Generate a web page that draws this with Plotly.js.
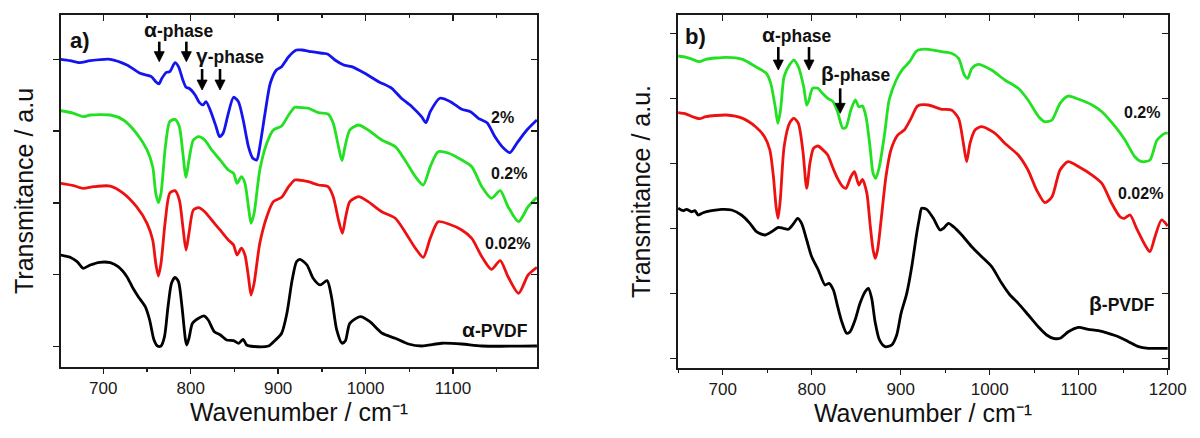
<!DOCTYPE html>
<html>
<head>
<meta charset="utf-8">
<script src="https://cdn.plot.ly/plotly-3.0.1.min.js"></script>
<style>
html,body{margin:0;padding:0;background:#fff;}
#chart{width:1200px;height:438px;}
</style>
</head>
<body>
<div id="chart"></div>
<script>
// ---------- Panel a) : alpha-phase / gamma-phase ----------
const a_pvdf_wn = [651,662,670,677,685,696,708,717,727,733,740,748,753,758,762,766,770,774,778,782,786,790,794,795.5,798,802,809,815,820,827,834,841,849,855,860,864,872,889,897,904,910,916,921,925,933,940,948,956,961,967,973,977,982,994,1005,1019,1034,1049,1064,1087,1110,1133,1196];
const a_pvdf_t  = [1.274,1.242,1.181,1.089,1.135,1.173,1.167,1.111,0.972,0.833,0.694,0.554,0.369,0.091,0.007,0.007,0.137,0.554,0.880,0.963,0.903,0.554,0.091,0.021,0.114,0.323,0.393,0.425,0.369,0.206,0.160,0.091,0.081,0.045,0.100,0.021,0,0.007,0.091,0.184,0.462,0.926,1.181,1.214,1.135,0.950,0.857,0.917,0.694,0.230,0.045,0.081,0.323,0.415,0.345,0.184,0.114,0.035,0.007,0.045,0.035,0.007,0.007];

const a_002_wn = [651,666,677,689,708,723,738,750,756.5,760,763,766,771,776,782,787,791,794.6,798,803,809,816,824,833.5,843,849,853,858,862,866,869,872.5,879,887,894.5,904,912,919,923,934.5,946,957,963,969,973.5,977.3,982,992,1003,1018.5,1034,1045,1057,1066,1074,1083,1095,1110,1121.5,1133,1144,1154,1163,1175,1186,1196];
const a_002_t  = [2.273,2.240,2.203,2.226,2.235,2.134,1.947,1.716,1.483,1.159,0.982,1.159,1.762,2.134,2.170,2.040,1.669,1.344,1.577,1.901,1.933,1.877,1.762,1.623,1.483,1.414,1.274,1.368,1.274,0.972,0.717,0.880,1.437,1.808,2.017,2.078,2.226,2.319,2.319,2.295,2.249,2.226,2.086,1.762,1.577,1.808,2.017,2.086,2.017,1.877,1.786,1.599,1.368,1.242,1.507,1.738,1.706,1.623,1.507,1.251,1.075,1.195,0.972,0.741,0.996,1.103];

const a_02_wn = [651,666,677,685,708,723,738,750,756.5,760,763,766,771,776,782,787,791,794.6,798,803,809,816,824,833.5,843,849,853,858,862,866,869,872.5,879,887,894.5,904,912,919,923,934.5,946,957,963,969,973,976.5,982,992,1003,1018.5,1034,1045,1057,1066,1074,1083,1095,1110,1121.5,1133,1144,1154,1163,1175,1186,1196];
const a_02_t  = [3.284,3.248,3.201,3.224,3.224,3.155,2.969,2.737,2.504,2.134,2.003,2.134,2.783,3.131,3.164,3.061,2.691,2.357,2.598,2.876,2.922,2.876,2.737,2.598,2.458,2.412,2.273,2.365,2.273,1.947,1.716,1.855,2.458,2.830,3.015,3.071,3.224,3.331,3.331,3.318,3.256,3.238,3.109,2.783,2.588,2.783,3.015,3.085,3.015,2.876,2.783,2.598,2.365,2.249,2.504,2.713,2.691,2.598,2.504,2.226,2.064,2.170,1.947,1.738,1.947,2.078];

const a_2_wn = [651,662,673,685,708,727,742,755,760,763.5,767,772,776,782,786,791,794.6,798,805,810,814,817.5,823,829,833,837,843,849,854.5,860,866,871,875.5,879,885,891,898,904,912,921,927,938,950,957,965,975,984,999,1015,1030,1041,1053,1064,1069,1074,1085,1097,1110,1120,1129,1139,1148,1158,1165,1173,1184.5,1196];
const a_2_t  = [4.000,3.980,3.953,3.980,4.000,3.921,3.805,3.758,3.688,3.656,3.735,3.818,3.827,3.953,3.897,3.712,3.610,3.596,3.503,3.396,3.364,3.410,3.270,3.061,2.922,2.969,3.248,3.471,3.410,3.155,2.783,2.621,2.598,2.783,3.248,3.666,3.851,3.897,4.036,4.129,4.129,4.106,4.084,4.070,3.990,3.921,3.897,3.805,3.688,3.596,3.457,3.340,3.201,3.117,3.270,3.457,3.410,3.304,3.270,3.178,3.117,2.922,2.760,2.699,2.830,3.015,3.155];

// ---------- Panel b) : alpha-phase / beta-phase ----------
const b_pvdf_wn = [650,655.6,659.4,665,668.7,672.5,678,687.5,698.7,710,721,730.6,738,747.5,755,762.5,768,773.7,779.3,784.2,788.7,794.4,800,807.5,815,819.5,824.4,829.2,833.8,839.3,843.1,848.7,854.3,860,863.7,867.4,871.2,876.1,882.4,889.9,895.5,900.4,906.8,912.4,918,921,923.6,929.2,936.7,944.2,948,953.6,959.2,968.6,979.8,991,1002.2,1013.5,1022.8,1032.1,1043.4,1054.6,1064,1071.5,1079,1088.3,1099.6,1110.8,1122.1,1133.3,1144.6,1155.8,1167.1,1178.3,1200];
const b_pvdf_t  = [2.308,2.271,2.292,2.255,2.271,2.205,2.240,2.271,2.292,2.282,2.205,2.077,1.948,1.897,1.948,2.015,2.000,1.985,2.066,2.154,2.077,1.820,1.563,1.358,1.128,1.154,1.051,0.794,0.563,0.385,0.409,0.589,0.846,1.025,1.077,0.923,0.563,0.282,0.179,0.205,0.359,0.692,1.000,1.409,1.923,2.154,2.308,2.292,2.154,1.974,2.000,2.077,2.025,1.897,1.717,1.563,1.409,1.154,0.974,0.846,0.666,0.486,0.359,0.308,0.308,0.409,0.477,0.446,0.425,0.385,0.333,0.256,0.179,0.154,0.154];

const b_002_wn = [650,659,666,674,681,704,722.5,737,747,753,757,760,762.2,764.7,769,775,780,785,790,794.4,798,802,807,812,818,824,829,835,838.5,844,848,853,857,862,865.5,869,871.4,874,878,883.4,889,896.6,904,911.6,919,931,946,957,965,970.4,974.1,977.9,983.5,991,1006,1017,1032,1043,1052.7,1062,1070,1079,1088,1100,1115,1126,1137,1146.4,1151.3,1157.7,1165,1174.5,1180,1185.7,1193,1200];
const b_002_t  = [3.779,3.758,3.717,3.686,3.717,3.743,3.692,3.563,3.409,3.205,2.794,2.332,2.154,2.435,3.255,3.615,3.692,3.615,3.205,2.615,3.000,3.231,3.266,3.215,3.128,2.923,2.769,2.640,2.615,2.794,2.871,2.666,2.754,2.538,2.077,1.666,1.538,1.666,2.128,2.794,3.205,3.435,3.512,3.692,3.882,3.897,3.831,3.820,3.692,3.308,3.025,3.308,3.512,3.563,3.462,3.308,3.128,2.897,2.589,2.394,2.486,2.897,3.025,2.948,2.820,2.692,2.385,2.178,2.154,2.205,2.000,1.743,1.640,1.871,2.128,2.035];

const b_02_wn = [650,659,666,674,681,704,722.5,737,749,754,759,762,765,769,775,780,785,791,794.4,797,801,807,812,818,824,829,835,838.5,844,849,853,857,861,865.5,869,872,876,882,887,895,902,910,917,920,931,946,957,965,971.5,975.3,980,987,1002,1017,1032,1043,1055,1062,1070,1079,1088,1100,1115,1126,1141,1152,1163,1171,1180,1188,1197,1200];
const b_02_t  = [4.651,4.631,4.600,4.563,4.600,4.631,4.600,4.486,4.385,4.231,3.871,3.615,3.820,4.332,4.512,4.589,4.486,4.178,3.897,3.974,4.154,4.154,4.077,4.000,3.948,3.794,3.538,3.554,3.820,3.974,3.871,3.882,3.717,3.255,2.846,2.769,2.948,3.462,3.974,4.282,4.446,4.563,4.717,4.743,4.754,4.717,4.692,4.615,4.358,4.308,4.462,4.523,4.435,4.282,4.154,3.974,3.717,3.640,3.667,3.923,4.035,3.985,3.897,3.794,3.563,3.358,3.102,3.025,3.051,3.358,3.462,3.462];

// labels
const seriesLabelsA = ['α-PVDF', '0.02%', '0.2%', '2%'];
const seriesLabelsB = ['β-PVDF', '0.02%', '0.2%'];
const xTickValsA = [700, 800, 900, 1000, 1100];
const xTickValsB = [700, 800, 900, 1000, 1100, 1200];
const yTitleA = 'Transmitance / a.u';
const yTitleB = 'Transmitance / a.u.';
const xTitle = 'Wavenumber / cm⁻¹';

// marked bands (wavenumber of each arrow)
const alphaBandsA = [764, 795];
const gammaBandsA = [813, 833.5];
const alphaBandsB = [762.5, 797];
const betaBandsB = [832];

const COLORS = {black:'#000000', red:'#ee1111', green:'#22e022', blue:'#1414ee'};
const FONT = 'Liberation Sans, Arial, sans-serif';
const LW = 2.8;

function line(x, y, color, xa, ya, name){
  return {type:'scatter', mode:'lines', x:x, y:y, name:name, xaxis:xa, yaxis:ya,
    line:{color:color, width:LW, shape:'spline', smoothing:0.7}, hoverinfo:'skip', showlegend:false};
}
// empty helper traces so the mirrored (top / right) frame axes get drawn
function frame(xa, ya){
  return {type:'scatter', mode:'lines', x:[], y:[], xaxis:xa, yaxis:ya, hoverinfo:'skip', showlegend:false};
}

const traces = [
  line(a_pvdf_wn, a_pvdf_t, COLORS.black, 'x', 'y', seriesLabelsA[0]),
  line(a_002_wn, a_002_t, COLORS.red, 'x', 'y', seriesLabelsA[1]),
  line(a_02_wn, a_02_t, COLORS.green, 'x', 'y', seriesLabelsA[2]),
  line(a_2_wn, a_2_t, COLORS.blue, 'x', 'y', seriesLabelsA[3]),
  line(b_pvdf_wn, b_pvdf_t, COLORS.black, 'x2', 'y2', seriesLabelsB[0]),
  line(b_002_wn, b_002_t, COLORS.red, 'x2', 'y2', seriesLabelsB[1]),
  line(b_02_wn, b_02_t, COLORS.green, 'x2', 'y2', seriesLabelsB[2]),
  frame('x3','y'), frame('x','y3'), frame('x4','y2'), frame('x2','y4')
];

const AXC = '#1a1a1a';
const TITLEFONT = {family:FONT, size:25, color:'#111'};
function xax(domain, range, tickvals, anchor, title){
  return {domain:domain, range:range, anchor:anchor, showline:true, linecolor:AXC, linewidth:1.7,
    ticks:'outside', ticklen:5, tickwidth:1.5, tickcolor:AXC, tickmode:'array', tickvals:tickvals,
    tickfont:{family:FONT, size:17, color:'#1a1a1a'}, showgrid:false, zeroline:false,
    title:{text:title, font:TITLEFONT, standoff:5},
    minor:{ticks:'outside', ticklen:3, tickwidth:1.3, tickcolor:AXC, dtick:50, tick0:650, showgrid:false}};
}
function yax(domain, range, anchor, n, title){
  const tv=[]; for(let i=0;i<=n;i++) tv.push(i);
  return {domain:domain, range:range, anchor:anchor, showline:true, linecolor:AXC, linewidth:1.7,
    ticks:'outside', ticklen:6, tickwidth:1.5, tickcolor:AXC, tickmode:'array', tickvals:tv,
    showticklabels:false, showgrid:false, zeroline:false,
    title:{text:title, font:TITLEFONT, standoff:12}};
}
function topax(over, range, tickvals, anchor){
  return {overlaying:over, side:'top', anchor:anchor, range:range, showline:true, linecolor:AXC, linewidth:1.7,
    ticks:'inside', ticklen:6, tickwidth:1.5, tickcolor:AXC, tickmode:'array', tickvals:tickvals,
    showticklabels:false, showgrid:false, zeroline:false,
    minor:{ticks:'inside', ticklen:3, tickwidth:1.3, tickcolor:AXC, dtick:50, tick0:650, showgrid:false}};
}
function rightax(over, range, anchor, n){
  const tv=[]; for(let i=0;i<=n;i++) tv.push(i);
  return {overlaying:over, side:'right', anchor:anchor, range:range, showline:true, linecolor:AXC, linewidth:1.7,
    ticks:'inside', ticklen:6, tickwidth:1.5, tickcolor:AXC, tickmode:'array', tickvals:tv,
    showticklabels:false, showgrid:false, zeroline:false};
}

const rxA=[651.6,1196.1], ryA=[-0.2855,4.617];
const rxB=[649.8,1200.3], ryB=[-0.149,5.282];
const yDomA=[0.1621,0.9658], yDomB=[0.1598,0.9658];

// downward arrows drawn as shapes: shaft + filled head, sized in pixels around the tip
function arrowShapes(xref, yref, x, yTip, lenPx){
  return [
    {type:'line', xref:xref, yref:yref, x0:x, x1:x, ysizemode:'pixel', yanchor:yTip, y0:8, y1:lenPx,
      line:{color:'#000', width:2.6}},
    {type:'path', xref:xref, yref:yref, xsizemode:'pixel', ysizemode:'pixel', xanchor:x, yanchor:yTip,
      path:'M -5 10 L 5 10 L 0 0 Z', fillcolor:'#000', line:{color:'#000', width:0.8}}
  ];
}
const shapes = [].concat(
  ...alphaBandsA.map(w => arrowShapes('x','y',w,3.967,20)),
  ...gammaBandsA.map(w => arrowShapes('x','y',w,3.572,21)),
  ...alphaBandsB.map(w => arrowShapes('x2','y2',w,4.435,23)),
  ...betaBandsB.map(w => arrowShapes('x2','y2',w,3.769,25))
);

// Greek letters drawn a little larger (symbol-font look of the original)
function greek(t){ return t.replace(/([αβγ])/g, '<span style="font-size:21px">$1</span>'); }
function label(xref,yref,x,y,text,size){
  return {xref:xref, yref:yref, x:x, y:y, text:'<b>'+greek(text)+'</b>', showarrow:false,
    font:{family:FONT, size:size, color:'#111'}, xanchor:'center', yanchor:'middle'};
}

const annotations = [
  // panel a
  label('x','y',672.8,4.255,'a)',22),
  label('x','y',786.6,4.408,'α-phase',17.5),
  label('x','y',844.4,4.046,'γ-phase',17.5),
  label('x','y',1156.2,3.196,seriesLabelsA[3],16),
  label('x','y',1164.2,2.409,seriesLabelsA[2],16),
  label('x','y',1161.9,1.435,seriesLabelsA[1],16),
  label('x','y',1148.2,0.230,seriesLabelsA[0],17.5),
  // panel b
  label('x2','y2',670,4.951,'b)',22),
  label('x2','y2',784.0,4.974,'α-phase',17.5),
  label('x2','y2',850.3,4.389,'β-phase',17.5),
  label('x2','y2',1171.1,3.774,seriesLabelsB[2],16),
  label('x2','y2',1168.9,2.543,seriesLabelsB[1],16),
  label('x2','y2',1148.7,0.851,seriesLabelsB[0],17.5)
];

const layout = {
  width:1200, height:438, margin:{l:0,r:0,t:0,b:0}, paper_bgcolor:'#fff', plot_bgcolor:'rgba(0,0,0,0)',
  showlegend:false, font:{family:FONT},
  xaxis: xax([61/1200,537/1200], rxA, xTickValsA, 'y', xTitle),
  yaxis: yax(yDomA, ryA, 'x', 4, yTitleA),
  xaxis2: xax([678/1200,1168/1200], rxB, xTickValsB, 'y2', xTitle),
  yaxis2: yax(yDomB, ryB, 'x2', 5, yTitleB),
  xaxis3: topax('x', rxA, xTickValsA, 'y'),
  yaxis3: rightax('y', ryA, 'x', 4),
  xaxis4: topax('x2', rxB, xTickValsB, 'y2'),
  yaxis4: rightax('y2', ryB, 'x2', 5),
  annotations: annotations,
  shapes: shapes
};

Plotly.newPlot('chart', traces, layout, {staticPlot:true, displayModeBar:false});
</script>
</body>
</html>
